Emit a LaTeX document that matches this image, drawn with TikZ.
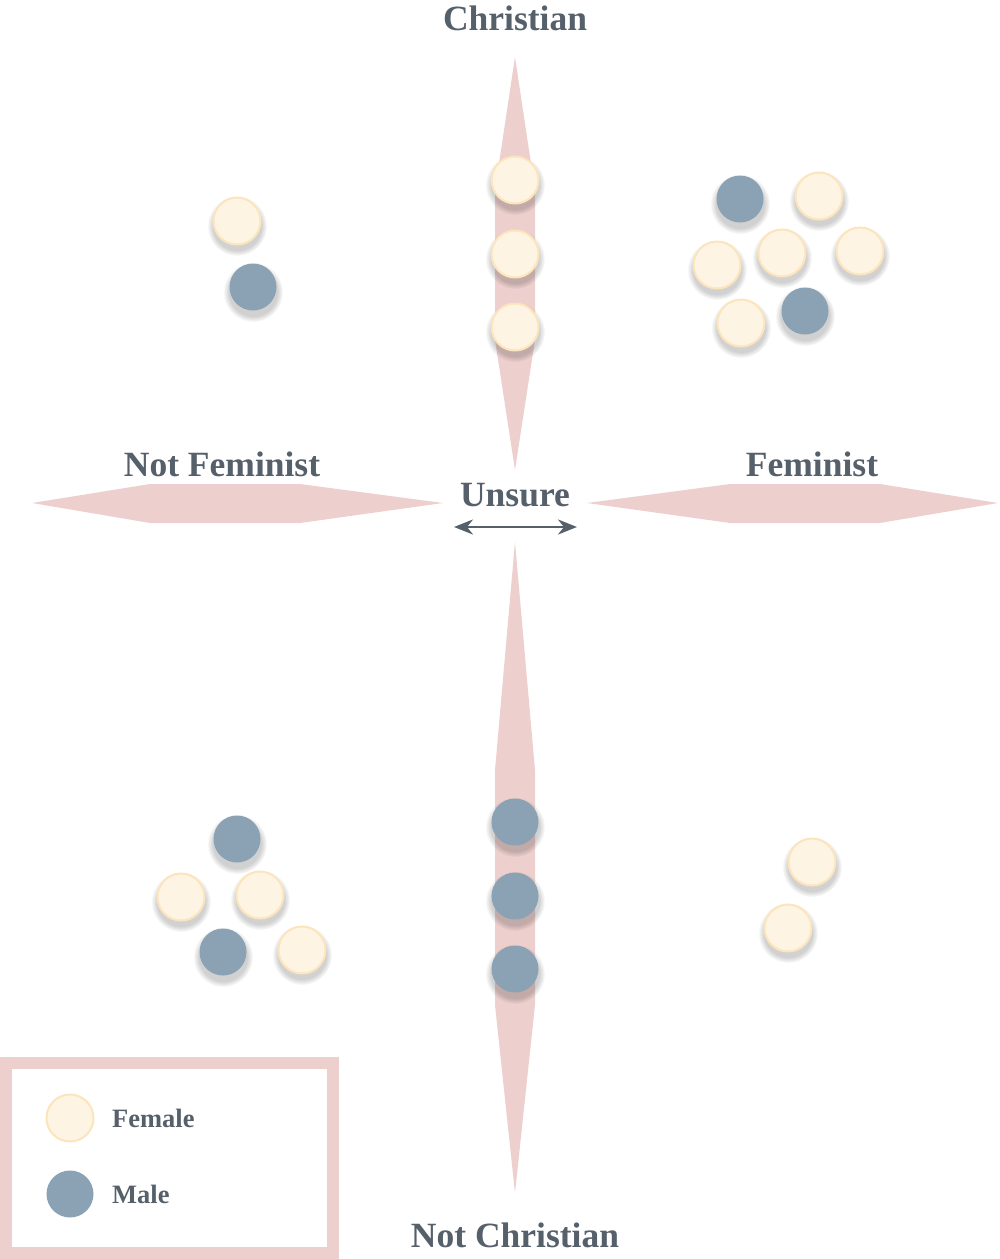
\documentclass[tikz,border=0pt]{standalone}
\usepackage{fontspec}
\setmainfont{Liberation Serif}
\usetikzlibrary{arrows.meta,fadings}
\definecolor{barpink}{HTML}{EDD0CE}
\definecolor{femfill}{HTML}{FDF4E3}
\definecolor{femline}{HTML}{FCE4BC}
\definecolor{malefill}{HTML}{8BA2B4}
\definecolor{txtc}{HTML}{56606B}
\tikzset{
  bar/.style={fill=barpink, draw=none},
  person/.style={circle, minimum size=47pt, inner sep=0pt},
  fem/.style={person, fill=femfill, draw=femline, line width=2pt},
  male/.style={person, fill=malefill, draw=none},
  lbl/.style={text=txtc, font=\fontsize{35.5}{40}\selectfont\bfseries, anchor=base, inner sep=0pt},
  leglbl/.style={text=txtc, font=\fontsize{26.5}{30}\selectfont\bfseries, anchor=base west, inner sep=0pt},
  headtip/.tip={Stealth[length=19pt,width=15pt,inset=6pt]},
}
\newcommand{\shadowat}[2]{\fill[black, opacity=0.18, path fading=circle with fuzzy edge 20 percent] (#1,#2+5) circle (30pt);}
\begin{document}
\begin{tikzpicture}[x=1pt,y=-1pt]
\useasboundingbox (0,0) rectangle (1000,1259);
% bars
\fill[bar] (515,57) -- (535,190) -- (535,340) -- (515,470) -- (495,340) -- (495,190) -- cycle;
\fill[bar] (515,542) -- (535,770) -- (535,1005) -- (515,1193) -- (495,1005) -- (495,770) -- cycle;
\fill[bar] (32,503) -- (150,484) -- (300,484) -- (443,503) -- (300,523) -- (150,523) -- cycle;
\fill[bar] (587,503) -- (730,484) -- (880,484) -- (998,503) -- (880,523) -- (730,523) -- cycle;
% labels
\node[lbl] (christ) at (515,30) {Christian};
\node[lbl] (notfem) at (222,476) {Not Feminist};
\node[lbl] (fem) at (812,476) {Feminist};
\node[lbl] (unsure) at (515,506) {Unsure};
\node[lbl] (notchrist) at (515,1247) {Not Christian};
\coordinate (ul) at (454,527);
\coordinate (ur) at (577,527);
\draw[txtc, line width=2.4pt, headtip-headtip] (ul) -- (ur);
% shadows
\foreach \x/\y in {515/180,515/254,515/327,237/221,253/287,740/199,819/196,717/265,782/253,860/251,741/323,805/311,515/822,515/896,515/969,237/839,181/897,260/895,223/952,302/950,812/862,788/928}{\shadowat{\x}{\y}}
% people
\node[fem] (c1) at (515,180) {};
\node[fem] (c2) at (515,254) {};
\node[fem] (c3) at (515,327) {};
\node[fem] (tl1) at (237,221) {};
\node[male] (tl2) at (253,287) {};
\node[male] (tr1) at (740,199) {};
\node[fem] (tr2) at (819,196) {};
\node[fem] (tr3) at (717,265) {};
\node[fem] (tr4) at (782,253) {};
\node[fem] (tr5) at (860,251) {};
\node[fem] (tr6) at (741,323) {};
\node[male] (tr7) at (805,311) {};
\node[male] (b1) at (515,822) {};
\node[male] (b2) at (515,896) {};
\node[male] (b3) at (515,969) {};
\node[male] (bl1) at (237,839) {};
\node[fem] (bl2) at (181,897) {};
\node[fem] (bl3) at (260,895) {};
\node[male] (bl4) at (223,952) {};
\node[fem] (bl5) at (302,950) {};
\node[fem] (br1) at (812,862) {};
\node[fem] (br2) at (788,928) {};
% legend
\draw[barpink, line width=12pt] (6,1063) rectangle (333,1253);
\node[fem] (legf) at (70,1118) {};
\node[male] (legm) at (70,1194) {};
\node[leglbl] (legft) at (112,1127) {Female};
\node[leglbl] (legmt) at (112,1203) {Male};
\end{tikzpicture}
\end{document}
